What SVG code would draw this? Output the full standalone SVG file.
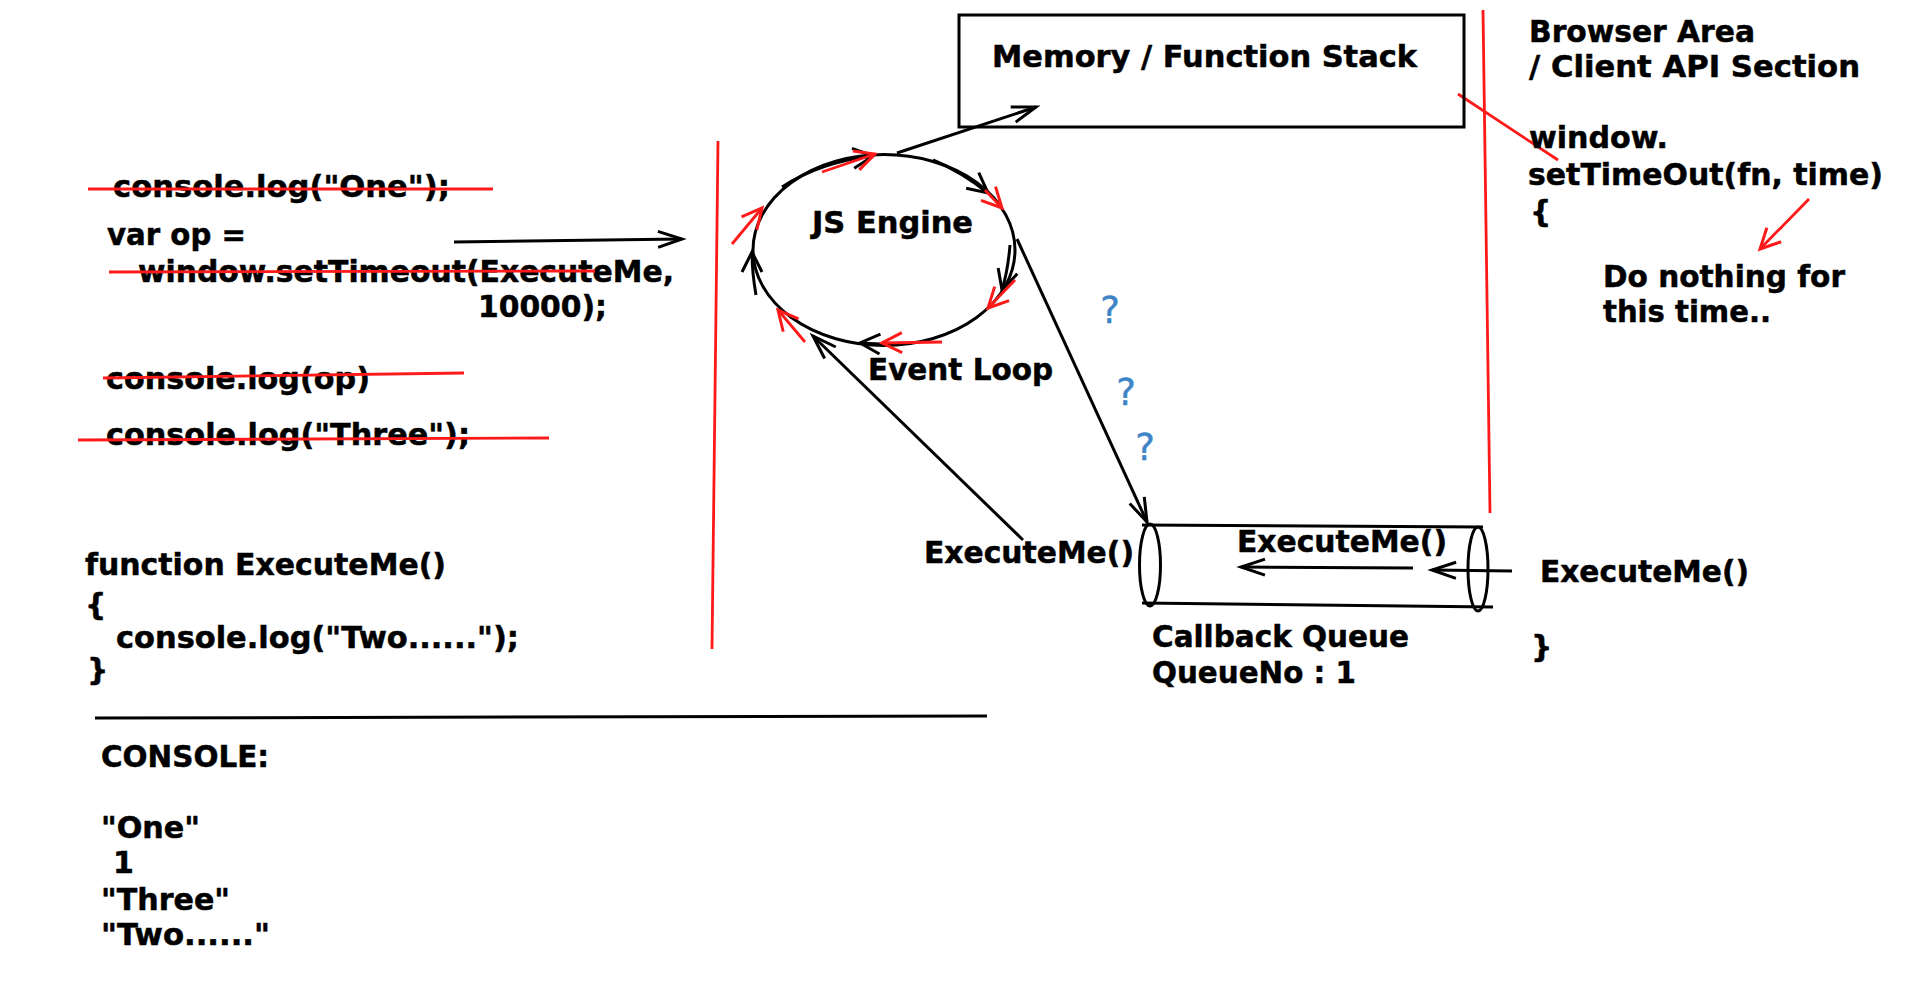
<svg xmlns="http://www.w3.org/2000/svg" width="1920" height="991" viewBox="0 0 1920 991">
<style>
text{font-family:"DejaVu Sans",Verdana,sans-serif;font-weight:bold;font-size:30px;fill:#000;stroke:#000;stroke-width:0.5}
.q{font-weight:normal;font-size:37px;fill:#3d85c6;stroke:#3d85c6;stroke-width:0.4}
.k{stroke:#000;stroke-width:3;fill:none}
.r{stroke:#ff1a1a;stroke-width:2.8;fill:none}
</style>
<defs>
<marker id="ah" markerUnits="userSpaceOnUse" markerWidth="30" markerHeight="22" refX="24" refY="8" orient="auto" overflow="visible"><path d="M0,0 L24,8 L0,16" fill="none" stroke="#000" stroke-width="3"/></marker>
<marker id="sb" markerUnits="userSpaceOnUse" markerWidth="24" markerHeight="24" refX="20" refY="10" orient="auto" overflow="visible"><path d="M0,0 L20,10 L0,20" fill="none" stroke="#000" stroke-width="3"/></marker>
<marker id="sr" markerUnits="userSpaceOnUse" markerWidth="24" markerHeight="24" refX="20" refY="10" orient="auto" overflow="visible"><path d="M0,0 L20,10 L0,20" fill="none" stroke="#ff1a1a" stroke-width="3"/></marker>
</defs>
<rect width="1920" height="991" fill="#fff"/>

<g id="code">
<text x="113" y="197" textLength="337" lengthAdjust="spacingAndGlyphs">console.log("One");</text>
<text x="107" y="245" textLength="139" lengthAdjust="spacingAndGlyphs">var op =</text>
<text x="138" y="282" textLength="536" lengthAdjust="spacingAndGlyphs">window.setTimeout(ExecuteMe,</text>
<text x="478" y="317" textLength="129" lengthAdjust="spacingAndGlyphs">10000);</text>
<text x="106" y="389" textLength="264" lengthAdjust="spacingAndGlyphs">console.log(op)</text>
<text x="106" y="445" textLength="364" lengthAdjust="spacingAndGlyphs">console.log("Three");</text>
<text x="85" y="575" textLength="361" lengthAdjust="spacingAndGlyphs">function ExecuteMe()</text>
<text x="85" y="615">{</text>
<text x="116" y="648" textLength="403" lengthAdjust="spacingAndGlyphs">console.log("Two......");</text>
<text x="87" y="680">}</text>
</g>
<g id="strikes">
<line class="r" x1="88" y1="189" x2="493" y2="189"/>
<line class="r" x1="109" y1="272" x2="595" y2="271"/>
<line class="r" x1="103" y1="378" x2="464" y2="373"/>
<line class="r" x1="78" y1="440" x2="549" y2="438"/>
</g>

<g id="console">
<line class="k" x1="95" y1="718" x2="987" y2="716"/>
<text x="101" y="767" textLength="168" lengthAdjust="spacingAndGlyphs">CONSOLE:</text>
<text x="101" y="838" textLength="99" lengthAdjust="spacingAndGlyphs">"One"</text>
<text x="113" y="873">1</text>
<text x="101" y="910" textLength="129" lengthAdjust="spacingAndGlyphs">"Three"</text>
<text x="101" y="945" textLength="169" lengthAdjust="spacingAndGlyphs">"Two......"</text>
</g>

<g id="dividers">
<line class="r" x1="718" y1="141" x2="712" y2="649"/>
<line class="r" x1="1483" y1="10" x2="1490" y2="513"/>
<line class="r" x1="1458" y1="94" x2="1558" y2="160"/>
</g>

<g id="memory">
<rect x="959" y="15" width="505" height="112" fill="none" stroke="#000" stroke-width="3"/>
<text x="992" y="67" textLength="425" lengthAdjust="spacingAndGlyphs">Memory / Function Stack</text>
</g>

<g id="engine">
<ellipse class="k" cx="884" cy="250" rx="131" ry="95.5"/>
<text x="812" y="233" textLength="161" lengthAdjust="spacingAndGlyphs">JS Engine</text>
<text x="868" y="380" textLength="185" lengthAdjust="spacingAndGlyphs">Event Loop</text>
<path class="k" d="M782,187 Q820,162 873,156" marker-end="url(#sb)"/>
<path class="k" d="M933,160 Q962,172 988,193" marker-end="url(#sb)"/>
<path class="k" d="M1010,245 Q1008,270 1002,290" marker-end="url(#sb)"/>
<path class="k" d="M880,344 L860,343" marker-end="url(#sb)"/>
<path class="k" d="M756,295 Q752,272 752,252" marker-end="url(#sb)"/>
<path class="r" d="M822,172 L875,154" marker-end="url(#sr)"/>
<path class="r" d="M985,190 L1002,208" marker-end="url(#sr)"/>
<path class="r" d="M1015,280 L988,308" marker-end="url(#sr)"/>
<path class="r" d="M942,342 L882,343" marker-end="url(#sr)"/>
<path class="r" d="M805,342 L778,310" marker-end="url(#sr)"/>
<path class="r" d="M732,244 L762,208" marker-end="url(#sr)"/>
</g>

<g id="queue">
<line class="k" x1="1142" y1="525" x2="1483" y2="527"/>
<line class="k" x1="1142" y1="603" x2="1493" y2="607"/>
<ellipse class="k" cx="1150" cy="565" rx="10.5" ry="41"/>
<ellipse class="k" cx="1478" cy="569" rx="10" ry="42"/>
<text x="924" y="563" textLength="210" lengthAdjust="spacingAndGlyphs">ExecuteMe()</text>
<text x="1237" y="552" textLength="210" lengthAdjust="spacingAndGlyphs">ExecuteMe()</text>
<text x="1152" y="647" textLength="257" lengthAdjust="spacingAndGlyphs">Callback Queue</text>
<text x="1152" y="683" textLength="204" lengthAdjust="spacingAndGlyphs">QueueNo : 1</text>
</g>

<g id="browser">
<text x="1529" y="42" textLength="226" lengthAdjust="spacingAndGlyphs">Browser Area</text>
<text x="1529" y="77" textLength="331" lengthAdjust="spacingAndGlyphs">/ Client API Section</text>
<text x="1529" y="148" textLength="139" lengthAdjust="spacingAndGlyphs">window.</text>
<text x="1528" y="185" textLength="355" lengthAdjust="spacingAndGlyphs">setTimeOut(fn, time)</text>
<text x="1530" y="222">{</text>
<text x="1603" y="287" textLength="242" lengthAdjust="spacingAndGlyphs">Do nothing for</text>
<text x="1603" y="322" textLength="168" lengthAdjust="spacingAndGlyphs">this time..</text>
<text x="1540" y="582" textLength="209" lengthAdjust="spacingAndGlyphs">ExecuteMe()</text>
<text x="1531" y="657">}</text>
</g>

<g id="questions">
<text class="q" x="1110" y="323" text-anchor="middle">?</text>
<text class="q" x="1126" y="405" text-anchor="middle">?</text>
<text class="q" x="1145" y="460" text-anchor="middle">?</text>
</g>

<g id="connectors">
<line class="k" x1="454" y1="242" x2="682" y2="239" marker-end="url(#ah)"/>
<line class="k" x1="897" y1="153" x2="1036" y2="107" marker-end="url(#ah)"/>
<line class="k" x1="1017" y1="239" x2="1147" y2="522" marker-end="url(#ah)"/>
<line class="k" x1="1023" y1="540" x2="813" y2="336" marker-end="url(#ah)"/>
<line class="k" x1="1413" y1="568" x2="1241" y2="567" marker-end="url(#ah)"/>
<line class="k" x1="1512" y1="571" x2="1432" y2="570" marker-end="url(#ah)"/>
<line class="r" x1="1809" y1="199" x2="1760" y2="249" marker-end="url(#sr)"/>
</g>
</svg>
